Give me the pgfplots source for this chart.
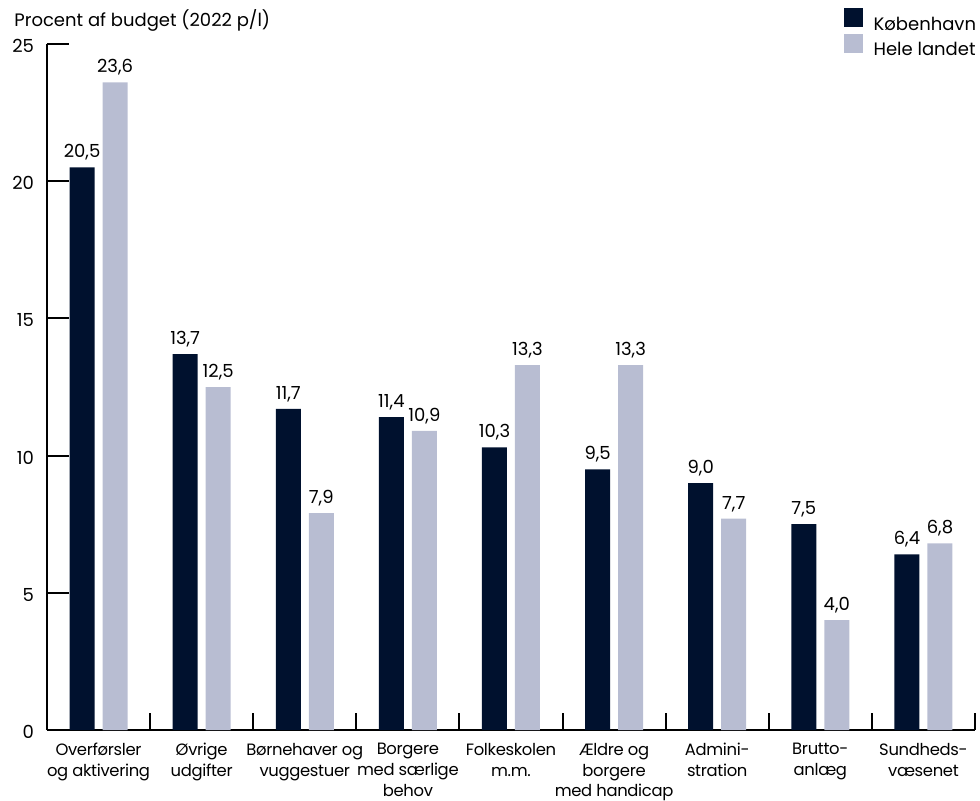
\documentclass[border=0pt]{standalone}
\usepackage{pgfplots}
\pgfplotsset{compat=1.18}
\usepackage{fontspec}
\setmainfont{Poppins}
\definecolor{kbh}{RGB}{0,17,46}
\definecolor{land}{RGB}{184,189,210}
\begin{document}
\begin{tikzpicture}[font=\fontsize{9}{11}\selectfont]
\useasboundingbox (-23.5pt,-35pt) rectangle (466.5pt,365pt);
\begin{axis}[
  scale only axis, width=464pt, height=343pt,
  xmin=-0.5, xmax=8.5, ymin=0, ymax=25, enlargelimits=false,
  axis lines=left, axis line style={-, line width=1pt},
  /pgf/number format/assume math mode=true,
  ybar=4pt, bar width=12.5pt,
  ytick={0,5,10,15,20,25},
  tick align=inside,
  major tick length=11pt,
  ytick style={draw=black, line width=1pt},
  yticklabel style={xshift=-3pt, yshift=-1pt, font=\fontsize{9}{11}\selectfont},
  xtick={0,...,8},
  xtick style={draw=none},
  xticklabels={{Overførsler\\og aktivering},{Øvrige\\udgifter},{Børnehaver og\\vuggestuer},{Borgere\\med særlige\\behov},{Folkeskolen\\m.m.},{Ældre og\\borgere\\med handicap},{Admini-\\stration},{Brutto-\\anlæg},{Sundheds-\\væsenet}},
  xticklabel style={align=center, anchor=north, yshift=-4.5pt, inner sep=2pt, font=\fontsize{8.2}{10.3}\selectfont\addfontfeatures{LetterSpace=-2}},
  extra x ticks={0.5,1.5,2.5,3.5,4.5,5.5,6.5,7.5,8.5},
  extra x tick labels={},
  extra x tick style={major tick length=8.5pt, xtick style={draw=black, line width=1pt}},
  nodes near coords,
  nodes near coords style={black, font=\fontsize{9}{11}\selectfont, /pgf/number format/.cd, fixed, fixed zerofill, precision=1, use comma, assume math mode=true},
  legend cell align=left,
  legend image code/.code={\path[#1, draw=none] (0pt,-1.75pt) rectangle (9.5pt,7.75pt);},
  legend style={draw=none, fill=none, at={(0.858,1.0525)}, anchor=north west, inner sep=0pt, row sep=1.5pt, column sep=5.5pt, nodes={inner sep=0pt, text depth=0pt}, font=\fontsize{9}{11}\selectfont},
]
\addplot[fill=kbh, draw=none] coordinates {(0,20.5) (1,13.7) (2,11.7) (3,11.4) (4,10.3) (5,9.5) (6,9.0) (7,7.5) (8,6.4)};
\addplot[fill=land, draw=none] coordinates {(0,23.6) (1,12.5) (2,7.9) (3,10.9) (4,13.3) (5,13.3) (6,7.7) (7,4.0) (8,6.8)};
\legend{København, Hele landet}
\end{axis}
\node[anchor=base west, inner sep=0pt] at (-16.5pt,351.5pt) {Procent af budget (2022 p/l)};
\end{tikzpicture}
\end{document}
